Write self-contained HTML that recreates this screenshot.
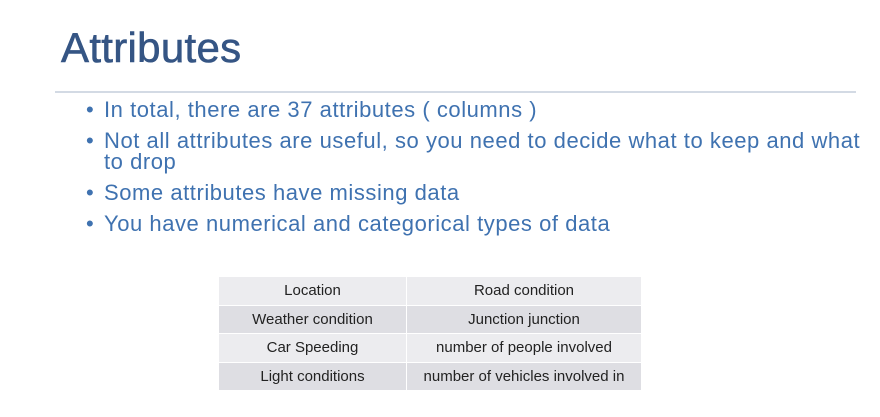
<!DOCTYPE html>
<html><head><meta charset="utf-8"><style>
body{margin:0;width:880px;height:417px;background:#fff;overflow:hidden;position:relative;font-family:"Liberation Sans",sans-serif}
#title{position:absolute;left:61px;top:24px;font-size:42px;color:#355584;letter-spacing:0.3px;margin:0;font-weight:normal;-webkit-text-stroke:0.6px #355584}
#rule{position:absolute;left:55px;top:91px;width:801px;height:2px;background:#d3dae4}
ul{position:absolute;left:86px;top:99px;margin:0;padding:0;list-style:none;width:790px}
li{position:relative;padding-left:18px;font-size:22px;line-height:21px;color:#3f72b0;margin-bottom:10px;letter-spacing:0.55px}
li:before{content:"•";position:absolute;left:0;top:0}
table{position:absolute;left:218px;top:276px;border-collapse:collapse;font-size:15px;color:#222}
td{height:27.5px;padding:0;text-align:center;border:1px solid #fff}
tr:nth-child(odd) td{background:#ececef}
tr:nth-child(even) td{background:#dedee3}
</style></head><body>
<h1 id="title">Attributes</h1>
<div id="rule"></div>
<ul>
<li>In total, there are 37 attributes ( columns )</li>
<li>Not all attributes are useful, so you need to decide what to keep and what<br>to drop</li>
<li>Some attributes have missing data</li>
<li>You have numerical and categorical types of data</li>
</ul>
<table>
<tr><td style="width:187px">Location</td><td style="width:234px">Road condition</td></tr>
<tr><td>Weather condition</td><td>Junction junction</td></tr>
<tr><td>Car Speeding</td><td>number of people involved</td></tr>
<tr><td>Light conditions</td><td>number of vehicles involved in</td></tr>
</table>
</body></html>
